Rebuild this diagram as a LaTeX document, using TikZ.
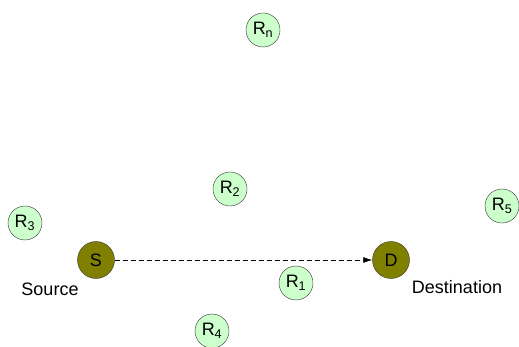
\documentclass[tikz,border=0pt]{standalone}
\usepackage{fontspec}
\setmainfont{Liberation Sans}
\usepackage{tikz}
\usetikzlibrary{positioning}
\usetikzlibrary{calc,arrows.meta}

\definecolor{relayGreen}{HTML}{CCFFCC}
\definecolor{endOlive}{HTML}{808000}

\tikzset{
	relay/.style={circle, draw=black!80, fill=relayGreen, thin, minimum size=34pt, inner sep=0pt, font=\fontsize{18}{20}\selectfont},
	endpoint/.style={circle, draw=black!80, fill=endOlive, thin, minimum size=37pt, inner sep=0pt, font=\fontsize{18}{20}\selectfont},
	tag/.style={font=\fontsize{18}{20}\selectfont},
}

\begin{document}
\begin{tikzpicture}[x=1pt, y=-1pt]
	
	\useasboundingbox (0,0) rectangle (519,347);
	
	% source and destination
	\node[endpoint] (S) at (96,260) {S};
	\node[endpoint] (D) at (391,260) {D};
	
	\node[tag] (SLabel) at ($(S)+(-46,29)$) {Source};
	\node[tag] (DLabel) at ($(D)+(66,27)$) {Destination};
	
	% relays
	\node[relay] (R1) at (296,283) {R\textsubscript{1}};
	\node[relay] (R2) at (230,189) {R\textsubscript{2}};
	\node[relay] (R3) at (25,223) {R\textsubscript{3}};
	\node[relay] (R4) at (212,331) {R\textsubscript{4}};
	\node[relay] (R5) at (502,206) {R\textsubscript{5}};
	\node[relay] (Rn) at (263,30) {R\textsubscript{n}};
	
	% direct link
	\draw[line width=0.7pt, dash pattern=on 5pt off 3pt, -{Latex[length=9pt,width=6pt]}] (S) -- (D);
	
\end{tikzpicture}
\end{document}
